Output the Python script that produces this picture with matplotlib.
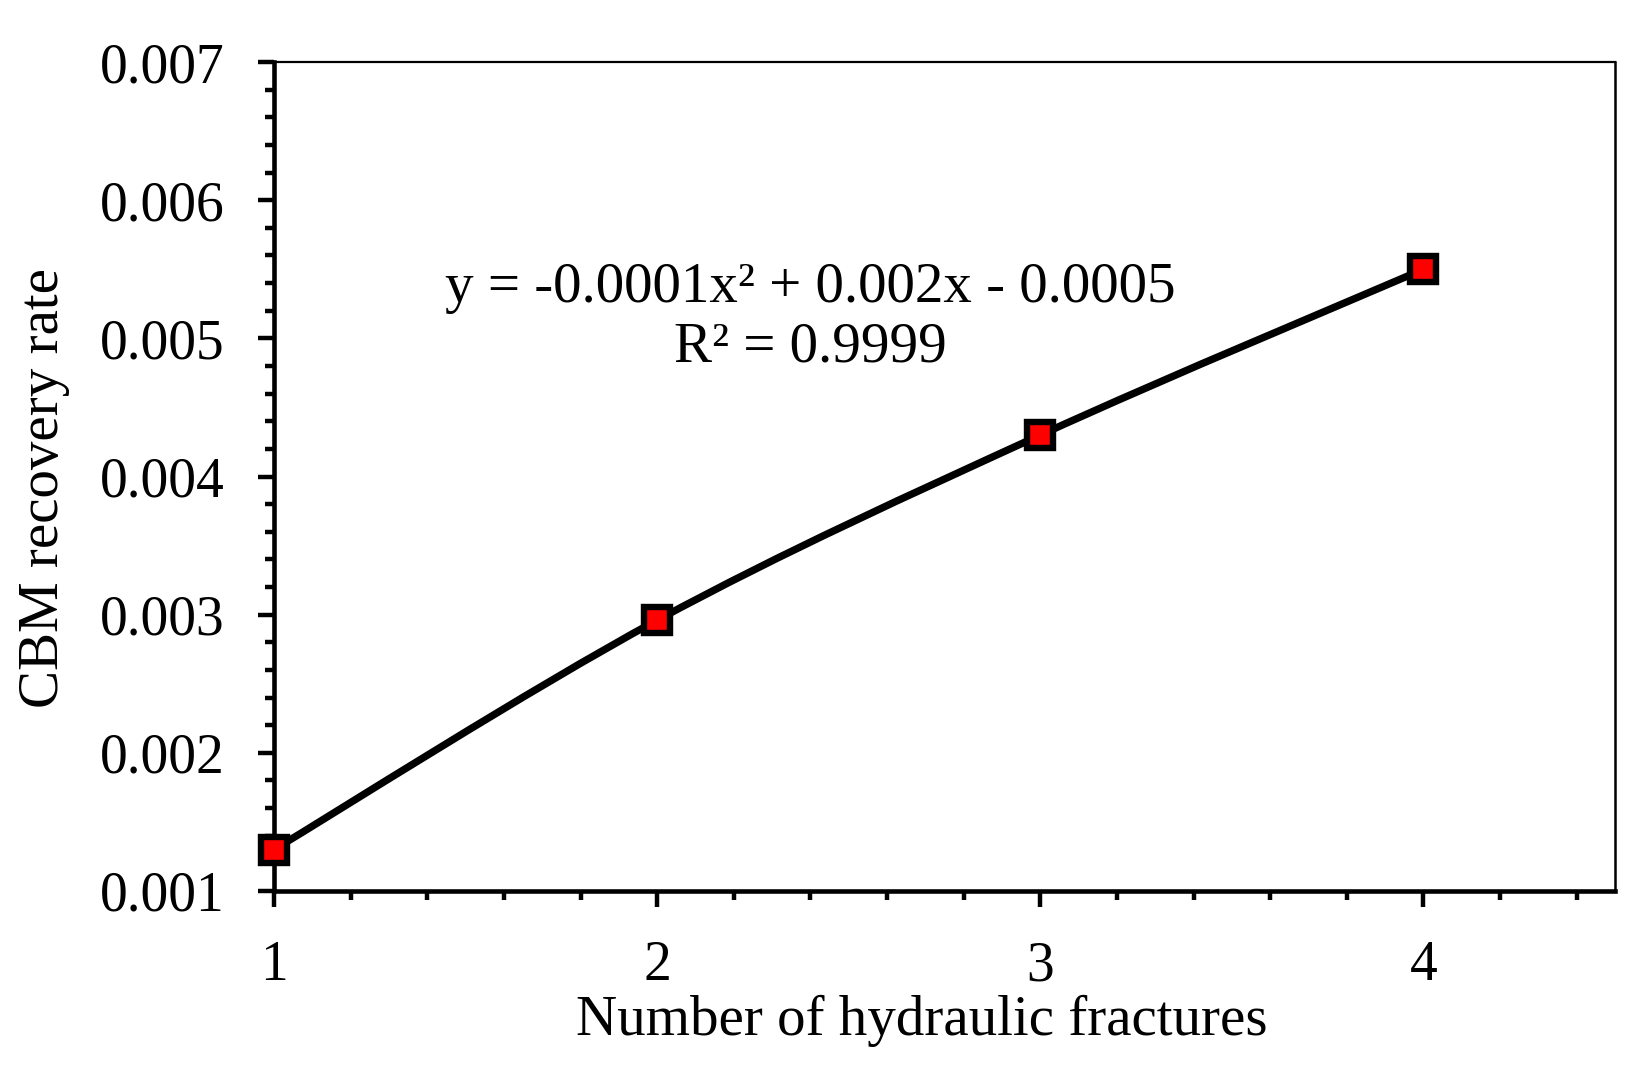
import matplotlib
matplotlib.use('Agg')
import matplotlib.pyplot as plt
from matplotlib.path import Path
from matplotlib.patches import PathPatch
from matplotlib.ticker import MultipleLocator, FormatStrFormatter

# datos
fracturas = [1, 2, 3, 4]
recuperacion = [0.0013, 0.00296, 0.0043, 0.0055]
ecuacion = 'y = -0.0001x² + 0.002x - 0.0005\nR² = 0.9999'

plt.rcParams['font.family'] = ['Liberation Serif', 'DejaVu Serif']

fig = plt.figure(figsize=(16.4, 10.66), dpi=100)
ax = fig.add_axes([0.1671, 0.1642, 0.8177, 0.7776])

# linea suavizada tipo excel (bezier catmull-rom a partir de los datos)
pts = list(zip(fracturas, recuperacion))
verts = [pts[0]]
codes = [Path.MOVETO]
for i in range(len(pts) - 1):
    p0 = pts[max(i - 1, 0)]
    p1 = pts[i]
    p2 = pts[i + 1]
    p3 = pts[min(i + 2, len(pts) - 1)]
    c1 = (p1[0] + (p2[0] - p0[0]) / 6, p1[1] + (p2[1] - p0[1]) / 6)
    c2 = (p2[0] - (p3[0] - p1[0]) / 6, p2[1] - (p3[1] - p1[1]) / 6)
    verts += [c1, c2, p2]
    codes += [Path.CURVE4] * 3
ax.add_patch(PathPatch(Path(verts, codes), facecolor='none', edgecolor='black',
                       linewidth=5.3, capstyle='round', joinstyle='round', zorder=2))

ax.plot(fracturas, recuperacion, linestyle='none', marker='s', markersize=19,
        markerfacecolor='red', markeredgecolor='black', markeredgewidth=4.6,
        zorder=3, clip_on=False)

ax.text(2.4, 0.00515, ecuacion, ha='center', va='center', fontsize=41,
        linespacing=1.2)

ax.set_xlim(1, 4.5)
ax.set_ylim(0.001, 0.007)
ax.xaxis.set_major_locator(MultipleLocator(1))
ax.xaxis.set_minor_locator(MultipleLocator(0.2))
ax.yaxis.set_major_locator(MultipleLocator(0.001))
ax.yaxis.set_minor_locator(MultipleLocator(0.0002))
ax.xaxis.set_major_formatter(FormatStrFormatter('%d'))
ax.yaxis.set_major_formatter(FormatStrFormatter('%.3f'))

ax.tick_params(which='major', direction='out', length=11.5, width=3.2,
               labelsize=40, pad=24)
ax.tick_params(which='minor', direction='out', length=6.5, width=3.2)
ax.tick_params(top=False, right=False, which='both')

ax.spines['left'].set_linewidth(3.3)
ax.spines['bottom'].set_linewidth(3.3)
ax.spines['top'].set_linewidth(1.6)
ax.spines['right'].set_linewidth(1.8)

ax.set_xlabel('Number of hydraulic fractures', fontsize=41)
ax.set_ylabel('CBM recovery rate', fontsize=41)
ax.xaxis.set_label_coords(0.483, -0.125)
ax.yaxis.set_label_coords(-0.152, 0.486)

fig.savefig('out.png', dpi=100)
